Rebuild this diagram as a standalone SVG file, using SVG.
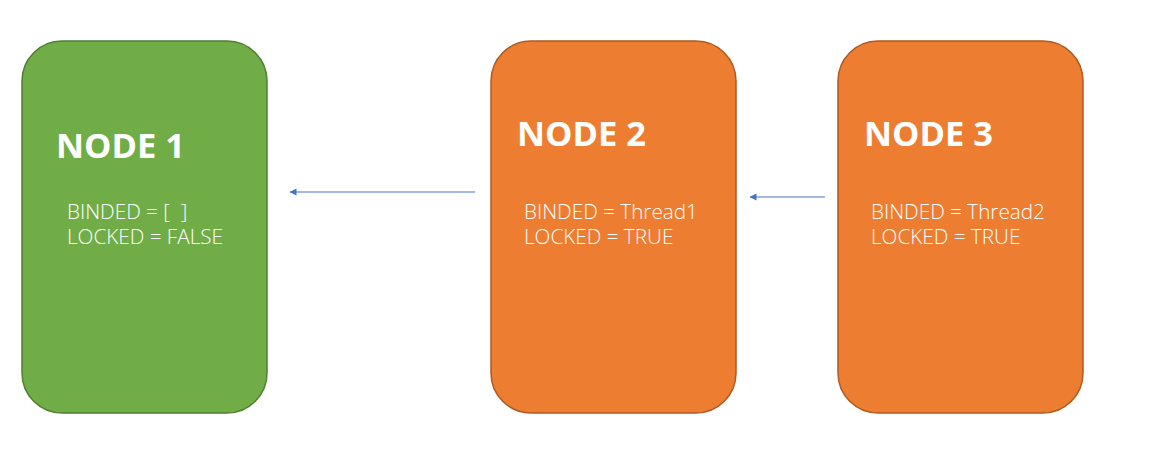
<svg xmlns="http://www.w3.org/2000/svg" width="1158" height="458" viewBox="0 0 1158 458">
<style>
.green{fill:#70AD47;stroke:#507E32;stroke-width:1.5}
.orange{fill:#ED7D31;stroke:#AE5A21;stroke-width:1.5}
.title{font-family:"Open Sans","Liberation Sans",sans-serif;font-weight:bold;font-size:34.5px;fill:#fff}
.body{font-family:"Open Sans","Liberation Sans",sans-serif;font-weight:300;font-size:20.7px;fill:#fff;white-space:pre}
.conn{stroke:#4472C4;stroke-width:1.2;fill:none}
</style>
<defs>
<marker id="arr" markerWidth="8" markerHeight="8" refX="6.5" refY="3.5" orient="auto" markerUnits="userSpaceOnUse">
<path d="M0,0 L7,3.5 L0,7 Z" fill="#4472C4"/>
</marker>
</defs>
<rect width="1158" height="458" fill="#fff"/>
<g id="node1">
<rect class="green" x="22" y="41" width="245" height="372" rx="40" ry="40"/>
<text class="title" x="56" y="158">NODE 1</text>
<text class="body" xml:space="preserve"><tspan x="67" y="219">BINDED = [  ]</tspan><tspan x="67" y="244">LOCKED = FALSE</tspan></text>
</g>
<g id="node2">
<rect class="orange" x="491" y="41" width="245" height="372" rx="40" ry="40"/>
<text class="title" x="517" y="146">NODE 2</text>
<text class="body"><tspan x="524" y="219">BINDED = Thread1</tspan><tspan x="524" y="244">LOCKED = TRUE</tspan></text>
</g>
<g id="node3">
<rect class="orange" x="838" y="41" width="245" height="372" rx="40" ry="40"/>
<text class="title" x="864" y="146">NODE 3</text>
<text class="body"><tspan x="871" y="219">BINDED = Thread2</tspan><tspan x="871" y="244">LOCKED = TRUE</tspan></text>
</g>
<g id="connectors">
<line class="conn" x1="475" y1="192" x2="290" y2="192" marker-end="url(#arr)"/>
<line class="conn" x1="825" y1="197" x2="750" y2="197" marker-end="url(#arr)"/>
</g>
</svg>
